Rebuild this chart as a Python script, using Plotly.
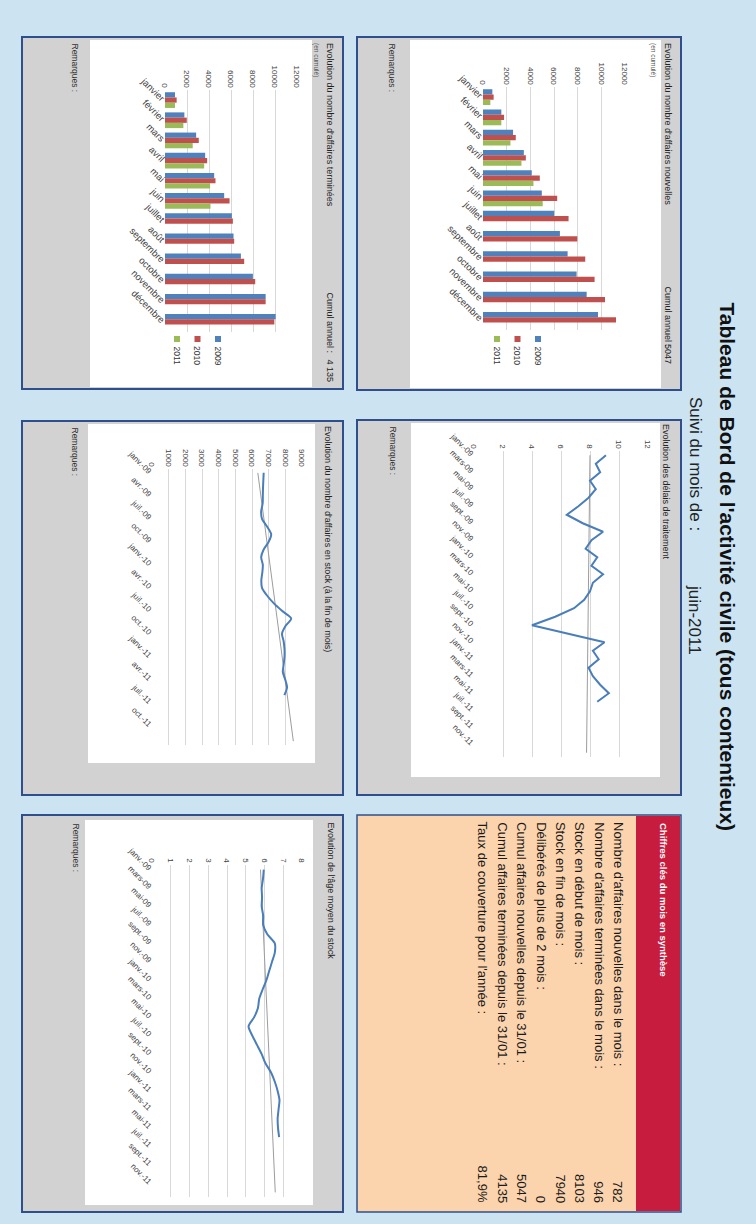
import numpy as np
import plotly.graph_objects as go

W, H = 756, 1224
FONT = "Liberation Sans, Arial, sans-serif"


def px(x):
    return x / W


def py(y):
    return 1 - y / H


# ---------------- data ----------------
mois = ["janvier", "février", "mars", "avril", "mai", "juin", "juillet", "août",
        "septembre", "octobre", "novembre", "décembre"]
nouv_2009 = [790, 1550, 2540, 3450, 4120, 4970, 6020, 6500, 7150, 7910, 8760, 9720]
nouv_2010 = [900, 1780, 2770, 3620, 4800, 6270, 7230, 7970, 8640, 9430, 10310, 11240]
nouv_2011 = [620, 1550, 2320, 3250, 4265, 5047]
term_2009 = [910, 1760, 2830, 3650, 4470, 5380, 6080, 6230, 6900, 7990, 9150, 10060]
term_2010 = [1060, 1980, 3070, 3830, 4590, 5870, 6170, 6290, 7200, 8200, 9150, 9940]
term_2011 = [910, 1670, 2520, 3560, 4100, 4135]

mois_idx = list(range(30))  # janv.-09 ... juin-11
delais = [9.1, 8.4, 8.7, 8.0, 8.4, 7.9, 7.2, 6.4, 7.5, 8.9, 8.1, 7.7, 8.5, 8.1, 8.9,
          8.2, 8.0, 7.6, 6.9, 5.6, 4.0, 6.5, 9.0, 8.2, 8.6, 7.9, 8.2, 8.7, 9.3, 8.5]
stock = [6700, 6680, 6660, 6650, 6640, 6550, 6600, 6900, 7150, 7000, 6700, 6550, 6650,
         6620, 6560, 6600, 6900, 7300, 7800, 8350, 8000, 7800, 7900, 7950, 7950, 7900,
         7850, 8000, 8103, 7940]
age = [5.96, 5.92, 5.85, 5.87, 5.85, 5.93, 5.93, 6.15, 6.55, 6.55, 6.4, 6.25, 6.1, 5.9,
       5.72, 5.65, 5.45, 5.15, 5.35, 5.6, 5.85, 6.05, 6.35, 6.55, 6.7, 6.8, 6.75, 6.7,
       6.72, 6.78]

lab2_idx = list(range(0, 36, 2))
lab2 = ["janv.-09", "mars-09", "mai-09", "juil.-09", "sept.-09", "nov.-09",
        "janv.-10", "mars-10", "mai-10", "juil.-10", "sept.-10", "nov.-10",
        "janv.-11", "mars-11", "mai-11", "juil.-11", "sept.-11", "nov.-11"]
lab3_idx = list(range(0, 36, 3))
lab3 = ["janv.-09", "avr.-09", "juil.-09", "oct.-09", "janv.-10", "avr.-10",
        "juil.-10", "oct.-10", "janv.-11", "avr.-11", "juil.-11", "oct.-11"]

chiffres_lib = ["Nombre d'affaires nouvelles dans le mois :",
                "Nombre d'affaires terminées dans le mois :",
                "Stock en début de mois :",
                "Stock en fin de mois :",
                "Délibérés de plus de 2 mois :",
                "Cumul affaires nouvelles depuis le 31/01 :",
                "Cumul affaires terminées depuis le 31/01 :",
                "Taux de couverture pour l'année :"]
chiffres_val = ["782", "946", "8103", "7940", "0", "5047", "4135", "81,9%"]

annees = ["2009", "2010", "2011"]
couleurs = ["#4f81bd", "#c0504d", "#9bbb59"]
LINE_C = "#4a7ebb"
TREND_C = "#9c9c9c"

fig = go.Figure()

# ---------------- bar charts ----------------
for ax, series in [("", [term_2009, term_2010, term_2011]),
                   ("2", [nouv_2009, nouv_2010, nouv_2011])]:
    for name, vals, col in zip(annees, series, couleurs):
        fig.add_bar(x=vals, y=mois[:len(vals)], orientation="h", name=name,
                    marker=dict(color=col, line=dict(width=0)),
                    xaxis="x" + ax, yaxis="y" + ax)

# ---------------- line charts ----------------
ext = np.array([0, 35])
for ax, vals, smooth in [("3", stock, True), ("4", delais, False), ("5", age, True)]:
    coef = np.polyfit(mois_idx, vals, 1)
    fig.add_scatter(x=np.polyval(coef, ext), y=ext, mode="lines",
                    line=dict(color=TREND_C, width=1), xaxis="x" + ax, yaxis="y" + ax)
    fig.add_scatter(x=vals, y=mois_idx, mode="lines",
                    line=dict(color=LINE_C, width=2, shape="spline" if smooth else "linear",
                              smoothing=0.7),
                    xaxis="x" + ax, yaxis="y" + ax)

tickf = dict(family=FONT, size=8, color="#404040")
catf = dict(family=FONT, size=9.5, color="#404040")
datef = dict(family=FONT, size=8, color="#404040")


def vaxis(x0, x1, rng, dtick, anchor):
    return dict(domain=[px(x0), px(x1)], range=rng, dtick=dtick, tick0=0, side="top",
                tickangle=90, tickformat="d", showgrid=True, gridcolor="#d8d8d8",
                gridwidth=1, zeroline=False, showline=False, ticks="", tickfont=tickf,
                anchor=anchor, fixedrange=True, automargin=False)


def cat_axis(y0, y1, anchor):
    return dict(domain=[py(y1), py(y0)], type="category", autorange="reversed",
                tickangle=45, showgrid=False, zeroline=False, showline=False,
                ticks="", tickfont=catf, anchor=anchor, fixedrange=True, automargin=False)


def date_axis(y0, y1, anchor, tv, tt):
    return dict(domain=[py(y1), py(y0)], range=[35.5, -0.5], tickvals=tv, ticktext=tt,
                tickangle=45, showgrid=False, zeroline=False, showline=False,
                ticks="", tickfont=datef, anchor=anchor, fixedrange=True, automargin=False)


layout = dict(
    template="none",
    width=W, height=H, margin=dict(l=0, r=0, t=0, b=0, pad=0, autoexpand=False),
    paper_bgcolor="#cce4f2", plot_bgcolor="rgba(0,0,0,0)",
    showlegend=False, barmode="group", bargap=0.22, bargroupgap=0.0,
    xaxis=vaxis(165, 297, [0, 12000], 2000, "y"),
    yaxis=cat_axis(90, 332, "x"),
    xaxis2=vaxis(483, 625, [0, 12000], 2000, "y2"),
    yaxis2=cat_axis(87, 330, "x2"),
    xaxis3=vaxis(152, 302, [0, 9000], 1000, "y3"),
    yaxis3=date_axis(469, 745, "x3", lab3_idx, lab3),
    xaxis4=vaxis(474, 648, [0, 12], 2, "y4"),
    yaxis4=date_axis(451, 757, "x4", lab2_idx, lab2),
    xaxis5=vaxis(152, 302, [0, 8], 1, "y5"),
    yaxis5=date_axis(865, 1197, "x5", lab2_idx, lab2),
)

# ---------------- shapes (panels) ----------------
shapes = []
BORDER = "#2f4f8c"
GRAY = "#d2d2d2"


def rect(x0, y0, x1, y1, fill, line=None, lw=0):
    d = dict(type="rect", xref="paper", yref="paper", x0=px(x0), x1=px(x1),
             y0=py(y1), y1=py(y0), fillcolor=fill, layer="below",
             line=dict(width=lw, color=line or fill))
    shapes.append(d)


panels = [  # outer box, inner white box
    ((22, 37, 343, 389), (90, 40, 312, 387)),
    ((357, 37, 681, 390), (410, 40, 661, 388)),
    ((22, 421, 343, 795), (88, 424, 315, 763)),
    ((357, 420, 681, 795), (411, 423, 660, 777)),
    ((22, 815, 343, 1212), (85, 820, 313, 1205)),
]
for outer, inner in panels:
    rect(*outer, GRAY, BORDER, 2)
    rect(*inner, "white")

# key figures panel
rect(357, 815, 681, 1212, "#fbd3ad", BORDER, 1.5)
rect(636, 816, 680, 1211, "#c81c3e")

# legend squares
for base_x, top in [(218, 336), (538, 336)]:
    for i, col in enumerate(couleurs):
        cx = base_x - i * 20.5
        shapes.append(dict(type="rect", xref="paper", yref="paper",
                           x0=px(cx - 3), x1=px(cx + 3), y0=py(top + 6), y1=py(top),
                           fillcolor=col, line=dict(width=0), layer="above"))

layout["shapes"] = shapes

# ---------------- annotations ----------------
ann = []


def txt(text, x, y, size, color="#222222", anchor="top", bold=False, xanchor="center"):
    ann.append(dict(text=("<b>%s</b>" % text) if bold else text, xref="paper", yref="paper",
                    x=px(x), y=py(y), xanchor=xanchor, yanchor=anchor, textangle=90,
                    showarrow=False, font=dict(family=FONT, size=size, color=color)))


# main title
txt("Tableau de Bord de l'activité civile (tous contentieux)", 727, 300, 21, "#111111", bold=True)
txt("Suivi du mois de :", 695, 395, 17, "#222222")
txt("juin-2011", 695, 583, 17, "#222222")

# panel texts
txt("Evolution du nombre d'affaires terminées", 330, 41, 9)
txt("(en cumulé)", 316, 41, 6.5, "#555555")
txt("Cumul annuel :", 330, 290, 9)
txt("4 135", 330, 384, 9, anchor="bottom")
txt("Remarques :", 75, 41, 8.5, "#333333")

txt("Evolution du nombre d'affaires nouvelles", 668, 41, 9)
txt("(en cumulé)", 653, 41, 6.5, "#555555")
txt("Cumul annuel :", 668, 284, 9)
txt("5047", 668, 366, 9, anchor="bottom")
txt("Remarques :", 392, 41, 8.5, "#333333")

txt("Evolution du nombre d'affaires en stock (à la fin de mois)", 328, 424, 9)
txt("Remarques :", 75, 425, 8.5, "#333333")

txt("Evolution des délais de traitement", 666, 422, 9)
txt("Remarques :", 393, 424, 8.5, "#333333")

txt("Evolution de l'âge moyen du stock", 330, 820, 9)
txt("Remarques :", 75, 821, 8.5, "#333333")

# legends
for base_x in (218, 538):
    for i, name in enumerate(annees):
        txt(name, base_x - i * 20.5, 344, 8.5, "#333333")

# key figures
txt("Chiffres clés du mois en synthèse", 663, 821, 9.5, "white", bold=True)
for i, (lib, val) in enumerate(zip(chiffres_lib, chiffres_val)):
    xc = 618 - i * 19.3
    txt(lib, xc, 820, 13, "#1a1a1a")
    txt(val, xc, 1205, 13, "#1a1a1a", anchor="bottom")

layout["annotations"] = ann
fig.update_layout(**layout)
fig.write_html("out.html", config={"displayModeBar": False},
               post_script="document.body.style.margin='0';")
